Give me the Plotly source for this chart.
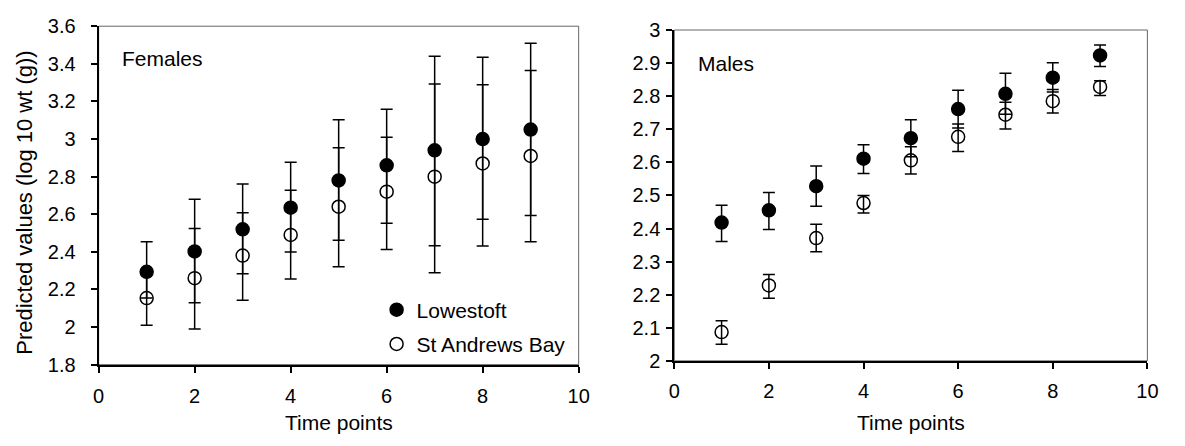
import plotly.graph_objects as go

# Time points sampled for both sexes
time_points = [1, 2, 3, 4, 5, 6, 7, 8, 9]

# Females: predicted log10 weight with lower/upper interval bounds
fem_lowestoft = [2.294, 2.402, 2.520, 2.635, 2.780, 2.860, 2.940, 3.000, 3.050]
fem_lowestoft_hi = [2.453, 2.680, 2.761, 2.876, 3.103, 3.158, 3.440, 3.435, 3.510]
fem_lowestoft_lo = [2.154, 2.129, 2.284, 2.399, 2.461, 2.552, 2.432, 2.573, 2.593]
fem_standrews = [2.154, 2.260, 2.380, 2.490, 2.640, 2.720, 2.800, 2.870, 2.910]
fem_standrews_hi = [2.300, 2.524, 2.608, 2.728, 2.954, 3.010, 3.293, 3.288, 3.364]
fem_standrews_lo = [2.009, 1.989, 2.142, 2.256, 2.321, 2.412, 2.289, 2.431, 2.453]

# Males: predicted log10 weight with lower/upper interval bounds
mal_lowestoft = [2.418, 2.455, 2.528, 2.611, 2.673, 2.761, 2.807, 2.856, 2.923]
mal_lowestoft_hi = [2.470, 2.509, 2.589, 2.653, 2.729, 2.818, 2.869, 2.901, 2.955]
mal_lowestoft_lo = [2.361, 2.397, 2.467, 2.566, 2.617, 2.704, 2.745, 2.813, 2.890]
mal_standrews = [2.087, 2.228, 2.371, 2.477, 2.606, 2.677, 2.744, 2.785, 2.828]
mal_standrews_hi = [2.121, 2.261, 2.413, 2.500, 2.647, 2.716, 2.782, 2.820, 2.847]
mal_standrews_lo = [2.050, 2.189, 2.330, 2.447, 2.565, 2.633, 2.701, 2.749, 2.802]

FONT = "Liberation Sans, Arial, sans-serif"
FS = 21
W, H = 1185, 446


def err(center, hi, lo):
    return dict(
        type="data",
        symmetric=False,
        array=[h - c for h, c in zip(hi, center)],
        arrayminus=[c - l for c, l in zip(center, lo)],
        color="black",
        thickness=1.5,
        width=6,
    )


def series(y, hi, lo, name, filled, xa, ya, show, group):
    return go.Scatter(
        x=time_points, y=y, mode="markers", name=name,
        xaxis=xa, yaxis=ya, showlegend=show, legendgroup=group,
        marker=dict(
            symbol="circle" if filled else "circle-open",
            size=13, color="black",
            line=dict(color="black", width=1.5),
        ),
        error_y=err(y, hi, lo),
    )


fig = go.Figure()
fig.add_trace(series(fem_lowestoft, fem_lowestoft_hi, fem_lowestoft_lo,
                     "Lowestoft", True, "x", "y", True, "lw"))
fig.add_trace(series(fem_standrews, fem_standrews_hi, fem_standrews_lo,
                     "St Andrews Bay", False, "x", "y", True, "sa"))
fig.add_trace(series(mal_lowestoft, mal_lowestoft_hi, mal_lowestoft_lo,
                     "Lowestoft", True, "x2", "y2", False, "lw"))
fig.add_trace(series(mal_standrews, mal_standrews_hi, mal_standrews_lo,
                     "St Andrews Bay", False, "x2", "y2", False, "sa"))


def px_x(p):
    return p / W


def px_y(p):
    return 1 - p / H


axis_common = dict(
    showline=True, linecolor="black", linewidth=2,
    ticks="outside", ticklen=6, tickwidth=1.5, tickcolor="black",
    showgrid=False, zeroline=False,
    tickfont=dict(family=FONT, size=20, color="black"),
)

fig.update_layout(
    width=W, height=H, autosize=False,
    margin=dict(l=0, r=0, t=0, b=0),
    paper_bgcolor="white", plot_bgcolor="white",
    font=dict(family=FONT, color="black"),
    xaxis=dict(axis_common, domain=[px_x(94), px_x(581)], range=[0, 10],
               dtick=2, tick0=0, anchor="y", ticklabelstandoff=6),
    yaxis=dict(axis_common, domain=[px_y(372), px_y(16)], range=[1.8, 3.6],
               dtick=0.2, tick0=1.8, anchor="x", ticklabelstandoff=11),
    xaxis2=dict(axis_common, domain=[px_x(678), px_x(1158)], range=[0, 10],
                dtick=2, tick0=0, anchor="y2", ticklabelstandoff=5),
    yaxis2=dict(axis_common, domain=[px_y(368), px_y(20)], range=[2, 3],
                dtick=0.1, tick0=2, anchor="x2", ticklabelstandoff=2),
    legend=dict(
        x=px_x(376), y=px_y(293), xanchor="left", yanchor="top",
        bgcolor="rgba(0,0,0,0)", borderwidth=0,
        font=dict(family=FONT, size=FS, color="black"),
        traceorder="grouped", tracegroupgap=4,
    ),
    showlegend=True,
)

# thin grey frame on the top and right edges of each panel
for xr, yr in (("x", "y"), ("x2", "y2")):
    fig.add_shape(type="rect", xref=f"{xr} domain", yref=f"{yr} domain",
                  x0=0, x1=1, y0=0, y1=1, layer="below",
                  line=dict(color="#666666", width=1))

annotations = [
    dict(text="Females", x=px_x(116), y=px_y(50), xanchor="left", yanchor="middle"),
    dict(text="Males", x=px_x(700), y=px_y(55), xanchor="left", yanchor="middle"),
    dict(text="Time points", x=px_x(338), y=px_y(433), xanchor="center", yanchor="middle"),
    dict(text="Time points", x=px_x(918), y=px_y(433), xanchor="center", yanchor="middle"),
]
for a in annotations:
    fig.add_annotation(
        text=a["text"], x=a["x"], y=a["y"], xref="paper", yref="paper",
        xanchor=a["xanchor"], yanchor=a["yanchor"], showarrow=False,
        font=dict(family=FONT, size=FS, color="black"),
    )
fig.add_annotation(
    text="Predicted values (log 10 wt (g))", x=px_x(18), y=px_y(202),
    xref="paper", yref="paper", xanchor="center", yanchor="middle",
    textangle=-90, showarrow=False,
    font=dict(family=FONT, size=22, color="black"),
)

fig.write_html("out.html")
